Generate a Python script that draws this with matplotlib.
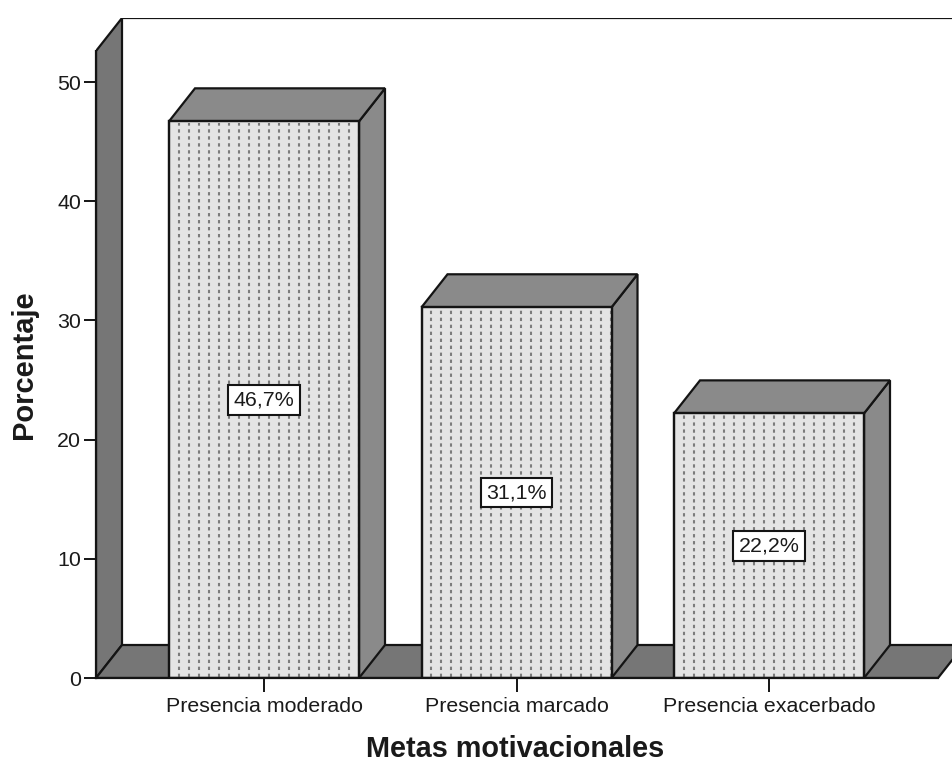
import numpy as np
import matplotlib
matplotlib.use("Agg")
import matplotlib.pyplot as plt
from matplotlib.patches import Polygon

plt.rcParams['font.family'] = ['Liberation Sans', 'DejaVu Sans']

categories = ["Presencia moderado", "Presencia marcado", "Presencia exacerbado"]
values = [46.7, 31.1, 22.2]
labels = ["46,7%", "31,1%", "22,2%"]
yticks = [0, 10, 20, 30, 40, 50]
ylabel = "Porcentaje"
xlabel = "Metas motivacionales"

W, H = 952, 763
LEFT, BOTTOM, TOP = 96, 678, 18
PX_PER_CAT = 252.5
PX_PER_UNIT = 11.92
C0 = 264
fig = plt.figure(figsize=(W / 100, H / 100), dpi=100, facecolor="white")
ax = fig.add_axes([LEFT / W, (H - BOTTOM) / H, (W - LEFT) / W, (BOTTOM - TOP) / H])
xmin = (LEFT - C0) / PX_PER_CAT
xmax = (W - C0) / PX_PER_CAT
ax.set_xlim(xmin, xmax)
ax.set_ylim(0, (BOTTOM - TOP) / PX_PER_UNIT)
dx = 26 / PX_PER_CAT
dy = 33 / PX_PER_UNIT
bar_w = 190 / PX_PER_CAT
floor_r = (938 - C0) / PX_PER_CAT
wall_top = (BOTTOM - 51) / PX_PER_UNIT
LW = 1.6
EC = "#141414"
kw = dict(edgecolor=EC, linewidth=LW, joinstyle="miter")

# walls and floor
ax.add_patch(Polygon([(xmin, 0), (xmin + dx, dy), (xmin + dx, wall_top + dy), (xmin, wall_top)],
                     facecolor="#767676", **kw))
ax.add_patch(Polygon([(xmin, 0), (floor_r, 0), (floor_r + dx, dy), (xmin + dx, dy)],
                     facecolor="#767676", clip_on=True, **kw))
ax.plot([xmin + dx, xmax], [wall_top + dy] * 2, color=EC, lw=LW, solid_capstyle="butt")

# bars
for i, (v, lab) in enumerate(zip(values, labels)):
    l, r = i - bar_w / 2, i + bar_w / 2
    ax.add_patch(Polygon([(r, 0), (r + dx, dy), (r + dx, v + dy), (r, v)], facecolor="#8a8a8a", zorder=3, **kw))
    ax.add_patch(Polygon([(l, v), (r, v), (r + dx, v + dy), (l + dx, v + dy)], facecolor="#8a8a8a", zorder=3, **kw))
    ax.add_patch(Polygon([(l, 0), (r, 0), (r, v), (l, v)], facecolor="#e4e4e4", zorder=3, **kw))
    xs = l + (np.arange(9.5, 190, 10)) / PX_PER_CAT
    ax.vlines(xs, 0.1, v - 0.1, colors="#7c7c7c", linewidth=1.5, linestyles=[(0, (1.6, 1.75))], zorder=3.5)
    ax.add_patch(Polygon([(l, 0), (r, 0), (r, v), (l, v)], facecolor="none", zorder=3.6, **kw))
    ax.text(i, v / 2, lab, ha="center", va="center", fontsize=15.4, color="#1a1a1a", zorder=5,
            bbox=dict(boxstyle="square,pad=0.25", facecolor="white", edgecolor=EC, linewidth=1.5))

# axes
for s in ("top", "right"):
    ax.spines[s].set_visible(False)
ax.spines["left"].set_bounds(0, wall_top)
ax.spines["bottom"].set_bounds(xmin, floor_r)
for s in ("left", "bottom"):
    ax.spines[s].set_linewidth(LW)
    ax.spines[s].set_color(EC)
    ax.spines[s].set_zorder(4)
ax.set_yticks(yticks)
ax.set_xticks(range(len(categories)))
ax.set_xticklabels(categories)
ax.tick_params(axis="y", length=8.6, width=1.4, color=EC, labelsize=15.4, pad=2, labelcolor="#1a1a1a")
ax.tick_params(axis="x", length=10, width=1.4, color=EC, labelsize=15.4, pad=3.5, labelcolor="#1a1a1a")
ax.set_ylabel(ylabel, fontsize=21, fontweight="bold", color="#1a1a1a")
ax.yaxis.set_label_coords((24 - LEFT) / (W - LEFT), (BOTTOM - 365) / (BOTTOM - TOP))
ax.set_xlabel(xlabel, fontsize=20.8, fontweight="bold", color="#1a1a1a")
ax.xaxis.set_label_coords((515 - LEFT) / (W - LEFT), (BOTTOM - 757) / (BOTTOM - TOP))
ax.xaxis.label.set_verticalalignment("baseline")
ax.yaxis.label.set_verticalalignment("center")

fig.savefig("out.png", dpi=100)
